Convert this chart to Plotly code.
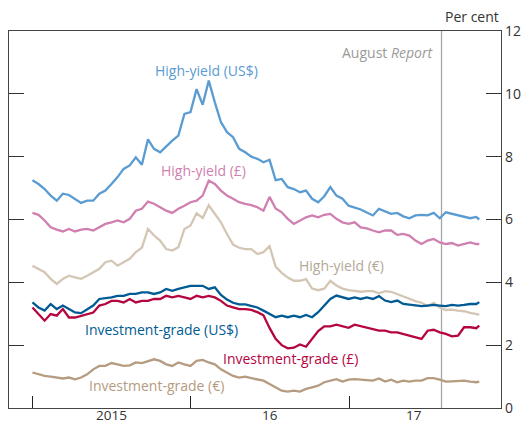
import plotly.graph_objects as go

DATES = [
    "2015-01-01", "2015-01-15", "2015-01-29", "2015-02-12", "2015-02-26", "2015-03-12",
    "2015-03-26", "2015-04-09", "2015-04-23", "2015-05-07", "2015-05-21", "2015-06-04",
    "2015-06-18", "2015-07-02", "2015-07-16", "2015-07-30", "2015-08-13", "2015-08-27",
    "2015-09-10", "2015-09-24", "2015-10-08", "2015-10-22", "2015-11-05", "2015-11-19",
    "2015-12-03", "2015-12-17", "2015-12-31", "2016-01-14", "2016-01-28", "2016-02-11",
    "2016-02-25", "2016-03-10", "2016-03-24", "2016-04-07", "2016-04-21", "2016-05-05",
    "2016-05-19", "2016-06-02", "2016-06-16", "2016-06-30", "2016-07-14", "2016-07-28",
    "2016-08-11", "2016-08-25", "2016-09-08", "2016-09-22", "2016-10-06", "2016-10-20",
    "2016-11-03", "2016-11-17", "2016-12-01", "2016-12-15", "2016-12-29", "2017-01-12",
    "2017-01-26", "2017-02-09", "2017-02-23", "2017-03-09", "2017-03-23", "2017-04-06",
    "2017-04-20", "2017-05-04", "2017-05-18", "2017-06-01", "2017-06-15", "2017-06-29",
    "2017-07-13", "2017-07-27", "2017-08-10", "2017-08-24", "2017-09-07", "2017-09-21",
    "2017-10-05", "2017-10-19", "2017-10-26",
]

HY_USD = [
    7.25, 7.13, 6.97, 6.76, 6.60, 6.82, 6.78, 6.66, 6.53, 6.60, 6.60, 6.82, 6.92, 7.13, 7.35,
    7.61, 7.72, 7.98, 7.74, 8.55, 8.25, 8.14, 8.33, 8.51, 8.67, 9.36, 9.42, 10.15, 9.65, 10.42,
    9.73, 9.10, 8.78, 8.62, 8.25, 8.14, 8.00, 7.93, 7.82, 7.90, 7.25, 7.29, 7.03, 6.97, 6.87,
    6.92, 6.66, 6.55, 6.74, 7.03, 6.76, 6.66, 6.44, 6.39, 6.32, 6.22, 6.13, 6.34, 6.25, 6.18,
    6.21, 6.10, 6.04, 6.13, 6.15, 6.13, 6.21, 6.04, 6.23, 6.18, 6.13, 6.08, 6.04, 6.08, 6.00,
]
HY_GBP = [
    6.21, 6.15, 5.97, 5.75, 5.68, 5.62, 5.70, 5.62, 5.68, 5.70, 5.65, 5.75, 5.86, 5.91, 5.97,
    5.91, 6.02, 6.28, 6.34, 6.57, 6.50, 6.39, 6.28, 6.21, 6.34, 6.44, 6.55, 6.60, 6.76, 7.24,
    7.13, 6.92, 6.76, 6.66, 6.55, 6.50, 6.46, 6.39, 6.28, 6.72, 6.35, 6.23, 6.02, 5.86, 5.97,
    6.07, 6.13, 6.07, 6.15, 6.18, 6.02, 5.91, 5.86, 5.91, 5.75, 5.72, 5.65, 5.59, 5.65, 5.65,
    5.51, 5.54, 5.49, 5.33, 5.22, 5.33, 5.38, 5.27, 5.22, 5.25, 5.17, 5.22, 5.27, 5.22, 5.22,
]
HY_EUR = [
    4.53, 4.43, 4.32, 4.11, 3.95, 4.11, 4.21, 4.16, 4.11, 4.21, 4.32, 4.43, 4.64, 4.69, 4.53,
    4.64, 4.75, 4.96, 5.10, 5.70, 5.49, 5.33, 5.06, 5.01, 5.12, 5.70, 5.81, 6.20, 6.05, 6.45,
    6.18, 5.91, 5.54, 5.20, 5.10, 5.06, 5.06, 4.90, 4.96, 5.15, 4.50, 4.30, 4.15, 4.05, 4.05,
    4.10, 3.80, 3.75, 3.80, 4.05, 3.90, 3.80, 3.75, 3.72, 3.70, 3.72, 3.72, 3.65, 3.72, 3.70,
    3.62, 3.55, 3.48, 3.40, 3.35, 3.25, 3.35, 3.20, 3.12, 3.13, 3.10, 3.08, 3.03, 3.00, 2.97,
]
IG_USD = [
    3.36, 3.20, 3.10, 3.31, 3.15, 3.26, 3.15, 3.04, 3.02, 3.15, 3.26, 3.47, 3.49, 3.52, 3.57,
    3.57, 3.63, 3.63, 3.68, 3.68, 3.63, 3.68, 3.79, 3.73, 3.79, 3.84, 3.89, 3.89, 3.89, 3.79,
    3.84, 3.60, 3.45, 3.35, 3.30, 3.30, 3.25, 3.20, 3.10, 2.99, 2.89, 2.94, 2.89, 2.94, 2.89,
    2.96, 2.89, 3.05, 3.26, 3.47, 3.58, 3.52, 3.47, 3.52, 3.47, 3.52, 3.47, 3.56, 3.42, 3.37,
    3.42, 3.31, 3.28, 3.26, 3.24, 3.26, 3.28, 3.26, 3.24, 3.28, 3.26, 3.28, 3.31, 3.31, 3.37,
]
IG_GBP = [
    3.20, 2.99, 2.78, 2.99, 2.94, 3.15, 2.88, 2.88, 2.94, 2.99, 3.04, 3.26, 3.31, 3.41, 3.41,
    3.36, 3.47, 3.36, 3.41, 3.41, 3.47, 3.47, 3.57, 3.52, 3.57, 3.52, 3.47, 3.57, 3.52, 3.57,
    3.52, 3.41, 3.26, 3.20, 3.15, 3.15, 3.12, 3.05, 2.95, 2.55, 2.20, 2.00, 1.90, 1.92, 2.02,
    1.95, 2.20, 2.45, 2.60, 2.60, 2.65, 2.60, 2.55, 2.65, 2.60, 2.57, 2.52, 2.46, 2.46, 2.41,
    2.41, 2.36, 2.30, 2.25, 2.20, 2.46, 2.49, 2.41, 2.36, 2.28, 2.30, 2.57, 2.57, 2.54, 2.62,
]
IG_EUR = [
    1.13, 1.07, 1.02, 1.00, 0.97, 0.94, 0.97, 0.91, 0.97, 1.07, 1.23, 1.34, 1.34, 1.43, 1.39,
    1.34, 1.36, 1.45, 1.43, 1.50, 1.55, 1.50, 1.39, 1.34, 1.45, 1.39, 1.34, 1.50, 1.53, 1.45,
    1.39, 1.23, 1.13, 1.02, 0.97, 1.00, 0.95, 0.92, 0.87, 0.76, 0.66, 0.55, 0.52, 0.55, 0.52,
    0.61, 0.66, 0.71, 0.82, 0.87, 0.92, 0.84, 0.90, 0.92, 0.90, 0.87, 0.87, 0.94, 0.84, 0.90,
    0.82, 0.87, 0.84, 0.87, 0.87, 0.95, 0.95, 0.90, 0.84, 0.85, 0.85, 0.87, 0.84, 0.82, 0.84,
]

SERIES = [
    ("High-yield (US$)", HY_USD, "#5a9bd2"),
    ("High-yield (£)", HY_GBP, "#cf7fb0"),
    ("High-yield (€)", HY_EUR, "#d4c6b5"),
    ("Investment-grade (US$)", IG_USD, "#005b94"),
    ("Investment-grade (£)", IG_GBP, "#b5053f"),
    ("Investment-grade (€)", IG_EUR, "#b59b80"),
]

LABEL_POS = {
    "High-yield (US$)": ("2016-02-05", 10.75),
    "High-yield (£)": ("2016-01-29", 7.57),
    "High-yield (€)": ("2016-12-12", 4.55),
    "Investment-grade (US$)": ("2015-10-25", 2.49),
    "Investment-grade (£)": ("2016-08-17", 1.57),
    "Investment-grade (€)": ("2015-10-13", 0.71),
}
LABEL_COLORS = {
    "High-yield (€)": "#b3a897",
}

Y_TICKS = [0, 2, 4, 6, 8, 10, 12]
X_LABEL_DATES = ["2015-07-02", "2016-07-02", "2017-05-29"]
X_LABELS = ["2015", "16", "17"]
YEAR_STARTS = ["2015-01-01", "2016-01-01", "2017-01-01"]
REPORT_DATE = "2017-07-31"

FONT = "Open Sans"

fig = go.Figure()
for name, vals, color in SERIES:
    fig.add_trace(go.Scatter(x=DATES, y=vals, mode="lines", name=name,
                             line=dict(color=color, width=2.3), hoverinfo="skip"))

fig.add_shape(type="line", xref="x", yref="paper", x0=REPORT_DATE, x1=REPORT_DATE,
              y0=0, y1=1, line=dict(color="#a6a6a6", width=1.3), layer="below")

annotations = []
for name, vals, color in SERIES:
    x, y = LABEL_POS[name]
    annotations.append(dict(x=x, y=y, xref="x", yref="y", text=name, showarrow=False,
                            font=dict(family=FONT, size=14, color=LABEL_COLORS.get(name, color))))
annotations.append(dict(x=REPORT_DATE, y=11.33, xref="x", yref="y", xanchor="right",
                        xshift=-7, text="August <i>Report</i>", showarrow=False,
                        font=dict(family=FONT, size=14, color="#9a9a9a")))
annotations.append(dict(x=1, y=1, xref="paper", yref="paper", xanchor="right", yanchor="bottom",
                        yshift=3, text="Per cent", showarrow=False,
                        font=dict(family=FONT, size=14, color="#333333")))
for xd, lab in zip(X_LABEL_DATES, X_LABELS):
    annotations.append(dict(x=xd, y=0, xref="x", yref="paper", yanchor="bottom", yshift=-18,
                            text=lab, showarrow=False,
                            font=dict(family=FONT, size=13.5, color="#333333")))

fig.update_layout(
    width=532, height=427,
    margin=dict(l=1, r=39, t=23, b=27),
    paper_bgcolor="white", plot_bgcolor="white",
    showlegend=False,
    font=dict(family=FONT, size=14, color="#333333"),
    annotations=annotations,
    xaxis=dict(
        type="date", range=["2014-11-08", "2017-12-15"],
        tickmode="array", tickvals=YEAR_STARTS, showticklabels=False,
        ticks="inside", ticklen=12, tickcolor="#222222", tickwidth=1.3,
        showgrid=False, zeroline=False,
        showline=True, linecolor="#444444", linewidth=1.3, mirror=True,
    ),
    yaxis=dict(
        side="right", range=[0, 12], tickmode="array", tickvals=Y_TICKS,
        ticks="inside", ticklen=15, tickcolor="#333333", tickwidth=1.3,
        showgrid=False, zeroline=False,
        showline=True, linecolor="#444444", linewidth=1.3, mirror="ticks",
        tickfont=dict(family=FONT, size=14, color="#333333"),
    ),
)

fig.write_html("out.html")
